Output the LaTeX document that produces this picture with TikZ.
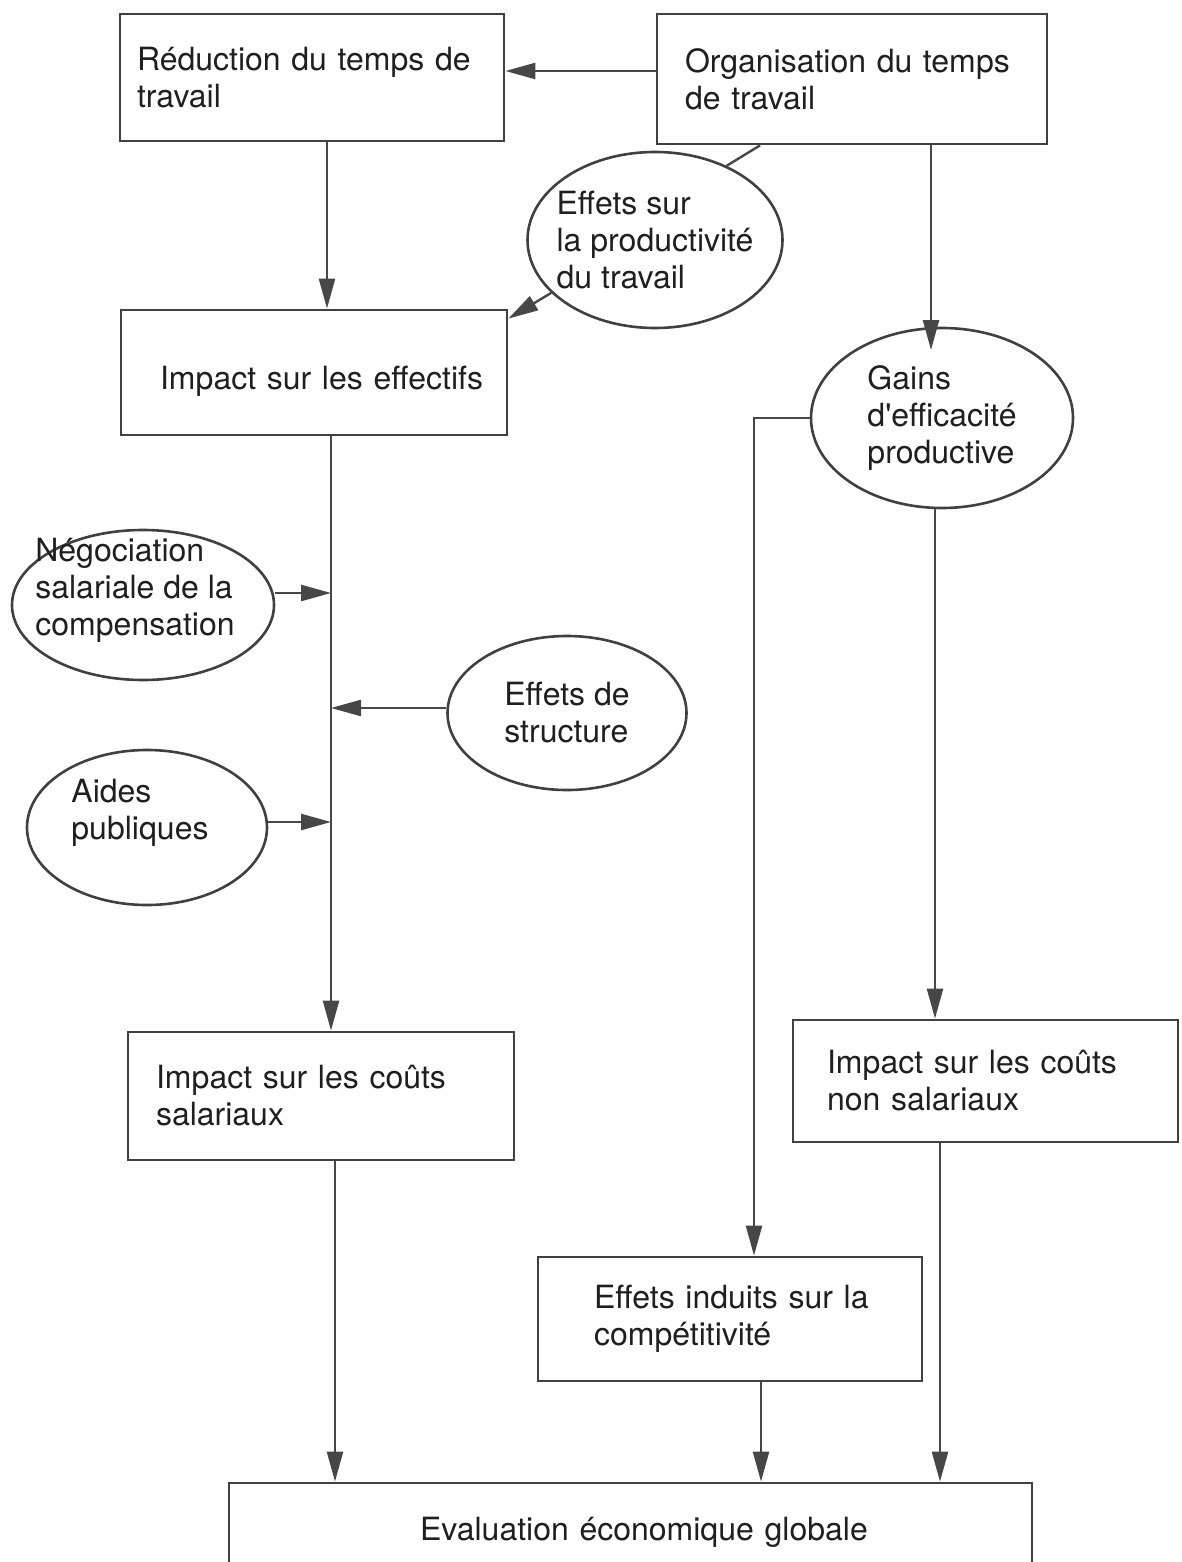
\documentclass[tikz,border=0pt]{standalone}
\usepackage{fontspec}
\setmainfont{TeX Gyre Heros}
\usetikzlibrary{shapes.geometric,arrows.meta}
\hyphenpenalty=10000
\exhyphenpenalty=10000
\begin{document}
\begin{tikzpicture}[x=0.5pt,y=-0.5pt,
  every node/.style={font=\fontsize{16}{18.5}\selectfont, text=black!88},
  box/.style={draw=black!75, line width=1.4pt, rectangle, align=left, inner ysep=0pt},
  oval/.style={draw=black!75, line width=1.3pt, ellipse, align=left, inner xsep=-20pt, inner ysep=-8pt},
  conn/.style={draw=black!72, line width=1.2pt},
  arr/.style={conn, -{Triangle[length=15pt,width=8pt]}}
]
\clip (0,0) rectangle (1182,1562);
\fill[white] (0,0) rectangle (1182,1562);

% boxes
\node[box, minimum width=192pt, minimum height=63.5pt, inner xsep=8.5pt, text width=175pt] (b1) at (312,77.5) {Réduction~du~temps~de\\travail};
\node[box, minimum width=195pt, minimum height=65pt, inner xsep=14pt, text width=167pt] (b2) at (852,79) {Organisation~du~temps\\de~travail};
\node[box, minimum width=193pt, minimum height=62.5pt, inner xsep=19.5pt, text width=154pt, text height=20pt] (b3) at (314,372.5) {Impact~sur~les~effectifs};
\node[box, minimum width=193pt, minimum height=64pt, inner xsep=14pt, text width=165pt] (b4) at (321,1096) {Impact~sur~les~coûts\\salariaux};
\node[box, minimum width=192.5pt, minimum height=61pt, inner xsep=17pt, text width=158.5pt] (b5) at (985.5,1081) {Impact~sur~les~coûts\\non~salariaux};
\node[box, minimum width=192pt, minimum height=62pt, inner xsep=28pt, text width=136pt] (b6) at (730,1319) {Effets~induits~sur~la\\compétitivité};
\node[box, align=center, minimum width=401.5pt, minimum height=49pt, inner xsep=10pt, text width=381.5pt] (b7) at (630.5,1532) {\hspace*{13.5pt}Evaluation~économique~globale};

% ellipses
\node[oval, minimum width=127.5pt, minimum height=88pt] (e1) at (655,240) {Effets sur\\la productivité\\du travail};
\node[oval, minimum width=131pt, minimum height=90pt] (e2) at (942,418) {Gains\\d\textquotesingle efficacité\\productive};
\node[oval, minimum width=131pt, minimum height=75pt] (e3) at (143,605) {Négociation\\salariale de la\\compensation\rule{8pt}{0pt}\\\mbox{}};
\node[oval, minimum width=119.5pt, minimum height=77pt] (e4) at (567,713) {Effets de\\structure};
\node[oval, minimum width=120pt, minimum height=77.5pt] (e5) at (147,827.5) {Aides\\publiques\rule{7pt}{0pt}\\\mbox{}};

% free ends
\coordinate (g1) at (931,350);
\coordinate (j1) at (331,593);
\coordinate (j2) at (331,708);
\coordinate (j3) at (331,822);

% connectors
\draw[arr] (b2.west |- 0,71) -- (b1.east |- 0,71);
\draw[arr] (327,0 |- b1.south) -- (327,0 |- b3.north);
\draw[conn] (760,0 |- b2.south) -- (e1.46);
\draw[arr] (e1.207) -- ([yshift=-5pt]b3.north east);
\draw[arr] (931,0 |- b2.south) -- (g1);
\draw[arr] (e2.west) -| (754,0 |- b6.north);
\draw[arr] (935,0 |- e2.south) -- (935,0 |- b5.north);
\draw[arr] (940,0 |- b5.south) -- (940,0 |- b7.north);
\draw[arr] (331,0 |- b3.south) -- (331,0 |- b4.north);
\draw[arr] (e3.east |- j1) -- (j1);
\draw[arr] (e4.west |- j2) -- (j2);
\draw[arr] (e5.east |- j3) -- (j3);
\draw[arr] (335,0 |- b4.south) -- (335,0 |- b7.north);
\draw[arr] (761,0 |- b6.south) -- (761,0 |- b7.north);
\end{tikzpicture}
\end{document}
